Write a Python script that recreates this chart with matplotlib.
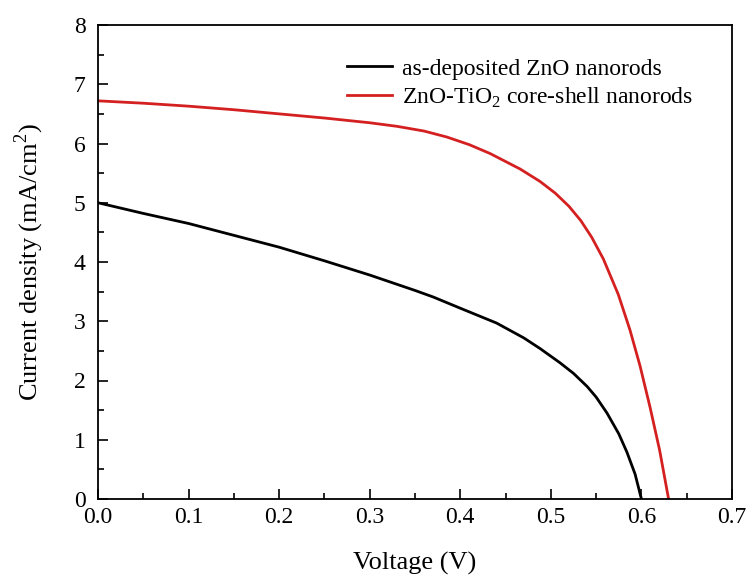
import numpy as np
import matplotlib
matplotlib.use('Agg')
import matplotlib.pyplot as plt
from matplotlib.ticker import MultipleLocator, FormatStrFormatter

plt.rcParams['font.family'] = 'Liberation Serif'
plt.rcParams['mathtext.fontset'] = 'custom'
plt.rcParams['mathtext.rm'] = 'Liberation Serif'

# J-V curves
v_zno = [0.0, 0.05, 0.10, 0.15, 0.20, 0.25, 0.30, 0.35, 0.37, 0.40, 0.44, 0.47,
         0.488, 0.51, 0.525, 0.54, 0.55, 0.562, 0.575, 0.584, 0.593, 0.60]
j_zno = [5.00, 4.82, 4.65, 4.45, 4.25, 4.02, 3.78, 3.52, 3.41, 3.22, 2.97, 2.72,
         2.54, 2.30, 2.12, 1.90, 1.72, 1.45, 1.10, 0.79, 0.42, 0.0]

v_core = [0.0, 0.05, 0.10, 0.15, 0.20, 0.25, 0.30, 0.33, 0.36, 0.385, 0.41,
          0.433, 0.466, 0.488, 0.505, 0.52, 0.533, 0.545, 0.558, 0.5745,
          0.5874, 0.5984, 0.6095, 0.62, 0.63]
j_core = [6.72, 6.68, 6.63, 6.57, 6.50, 6.43, 6.35, 6.29, 6.21, 6.11, 5.98,
          5.83, 5.57, 5.36, 5.16, 4.94, 4.70, 4.42, 4.05, 3.45,
          2.85, 2.25, 1.55, 0.83, 0.0]

labels = ['as-deposited ZnO nanorods', r'ZnO-TiO$_2$ core-shell nanorods']

fig = plt.figure(figsize=(7.47, 5.78), dpi=100)
ax = fig.add_axes([98 / 747, 79 / 578, 634 / 747, 474 / 578])

ax.plot(v_zno, j_zno, color='black', lw=2, label=labels[0])
ax.plot(v_core, j_core, color='#d42020', lw=2, label=labels[1])

ax.set_xlim(0, 0.7)
ax.set_ylim(0, 8)
ax.xaxis.set_major_locator(MultipleLocator(0.1))
ax.xaxis.set_minor_locator(MultipleLocator(0.05))
ax.yaxis.set_major_locator(MultipleLocator(1))
ax.yaxis.set_minor_locator(MultipleLocator(0.5))
ax.xaxis.set_major_formatter(FormatStrFormatter('%.1f'))
ax.tick_params(which='both', direction='in', labelsize=17, width=1.2)
ax.tick_params(which='major', length=7)
ax.tick_params(which='minor', length=4)
ax.tick_params(axis='x', pad=6)
ax.tick_params(axis='y', pad=9)
for s in ax.spines.values():
    s.set_linewidth(1.3)

ax.set_xlabel('Voltage (V)', fontsize=19, labelpad=17)
ax.set_ylabel(r'Current density (mA/cm$^2$)', fontsize=19, labelpad=20)

ax.legend(loc='upper left', bbox_to_anchor=(0.36, 0.975), frameon=False,
          fontsize=17, handlelength=1.9, handletextpad=0.4, labelspacing=0.25)

fig.savefig('out.png', dpi=100)
